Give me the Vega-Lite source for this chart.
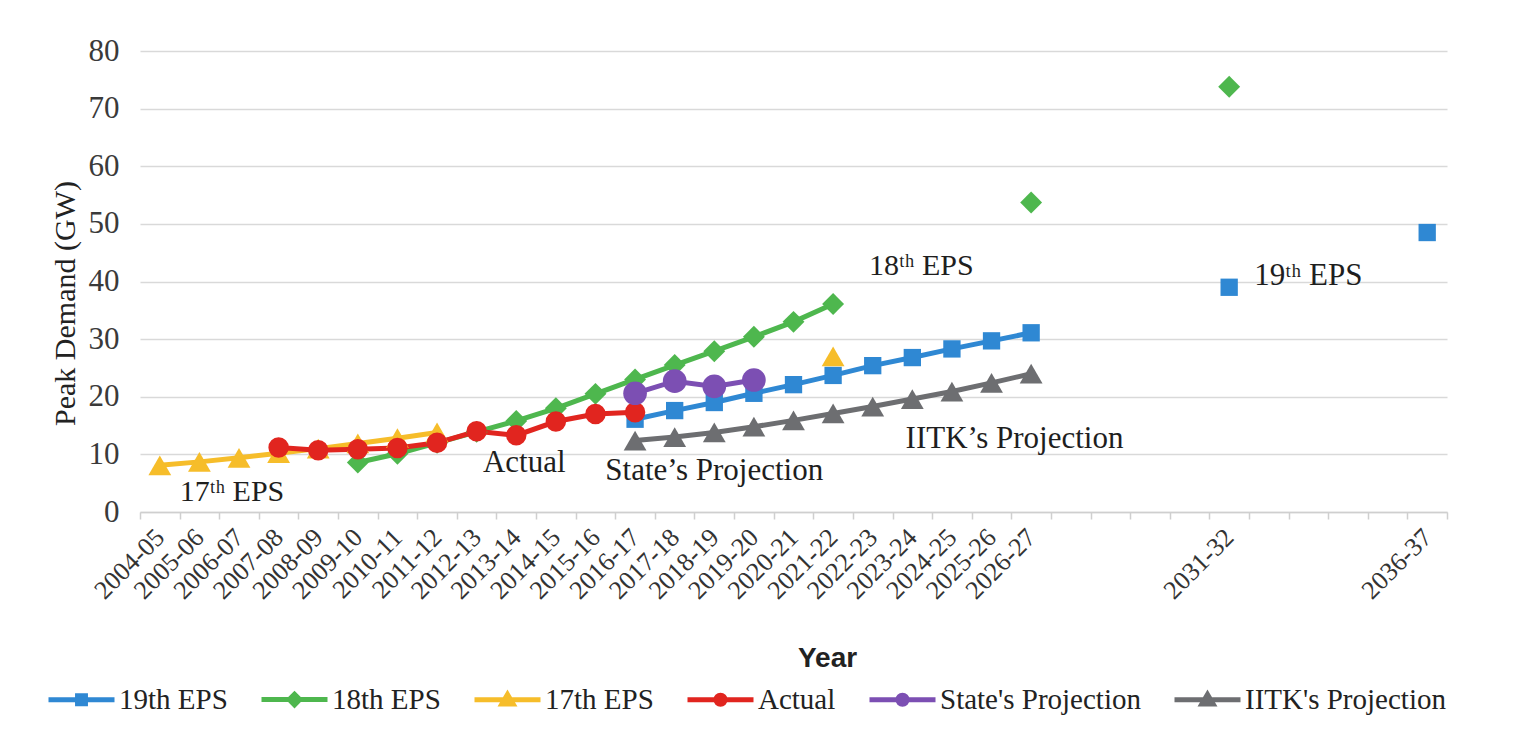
{
  "$schema": "https://vega.github.io/schema/vega-lite/v6.json",
  "width": 1307,
  "height": 461,
  "autosize": {"type": "none"},
  "padding": {"left": 140, "top": 51, "right": 74, "bottom": 239},
  "background": "#ffffff",
  "config": {"view": {"stroke": null}, "text": {"font": "Liberation Serif"}},
  "datasets": {
    "demand": [
      {"series": "19th EPS", "year": "2016-17", "value": 16.1},
      {"series": "19th EPS", "year": "2017-18", "value": 17.6},
      {"series": "19th EPS", "year": "2018-19", "value": 19.0},
      {"series": "19th EPS", "year": "2019-20", "value": 20.6},
      {"series": "19th EPS", "year": "2020-21", "value": 22.1},
      {"series": "19th EPS", "year": "2021-22", "value": 23.7},
      {"series": "19th EPS", "year": "2022-23", "value": 25.4},
      {"series": "19th EPS", "year": "2023-24", "value": 26.8},
      {"series": "19th EPS", "year": "2024-25", "value": 28.3},
      {"series": "19th EPS", "year": "2025-26", "value": 29.7},
      {"series": "19th EPS", "year": "2026-27", "value": 31.1},
      {"series": "19th EPS", "year": "2027-28", "value": null},
      {"series": "19th EPS", "year": "2031-32", "value": 39.0},
      {"series": "19th EPS", "year": "2032-33", "value": null},
      {"series": "19th EPS", "year": "2036-37", "value": 48.5},
      {"series": "18th EPS", "year": "2009-10", "value": 8.6},
      {"series": "18th EPS", "year": "2010-11", "value": 10.1},
      {"series": "18th EPS", "year": "2011-12", "value": 12.0},
      {"series": "18th EPS", "year": "2012-13", "value": 13.9},
      {"series": "18th EPS", "year": "2013-14", "value": 15.8},
      {"series": "18th EPS", "year": "2014-15", "value": 18.0},
      {"series": "18th EPS", "year": "2015-16", "value": 20.5},
      {"series": "18th EPS", "year": "2016-17", "value": 23.0},
      {"series": "18th EPS", "year": "2017-18", "value": 25.5},
      {"series": "18th EPS", "year": "2018-19", "value": 27.9},
      {"series": "18th EPS", "year": "2019-20", "value": 30.4},
      {"series": "18th EPS", "year": "2020-21", "value": 33.0},
      {"series": "18th EPS", "year": "2021-22", "value": 36.1},
      {"series": "18th EPS", "year": "2022-23", "value": null},
      {"series": "18th EPS", "year": "2026-27", "value": 53.7},
      {"series": "18th EPS", "year": "2027-28", "value": null},
      {"series": "18th EPS", "year": "2031-32", "value": 73.8},
      {"series": "17th EPS", "year": "2004-05", "value": 8.1},
      {"series": "17th EPS", "year": "2005-06", "value": 8.7},
      {"series": "17th EPS", "year": "2006-07", "value": 9.4},
      {"series": "17th EPS", "year": "2007-08", "value": 10.2},
      {"series": "17th EPS", "year": "2008-09", "value": 11.0},
      {"series": "17th EPS", "year": "2009-10", "value": 11.9},
      {"series": "17th EPS", "year": "2010-11", "value": 12.8},
      {"series": "17th EPS", "year": "2011-12", "value": 13.8},
      {"series": "17th EPS", "year": "2012-13", "value": null},
      {"series": "17th EPS", "year": "2021-22", "value": 27.0},
      {"series": "Actual", "year": "2007-08", "value": 11.2},
      {"series": "Actual", "year": "2008-09", "value": 10.7},
      {"series": "Actual", "year": "2009-10", "value": 10.9},
      {"series": "Actual", "year": "2010-11", "value": 11.1},
      {"series": "Actual", "year": "2011-12", "value": 12.0},
      {"series": "Actual", "year": "2012-13", "value": 14.0},
      {"series": "Actual", "year": "2013-14", "value": 13.3},
      {"series": "Actual", "year": "2014-15", "value": 15.7},
      {"series": "Actual", "year": "2015-16", "value": 17.0},
      {"series": "Actual", "year": "2016-17", "value": 17.3},
      {"series": "State's Projection", "year": "2016-17", "value": 20.6},
      {"series": "State's Projection", "year": "2017-18", "value": 22.7},
      {"series": "State's Projection", "year": "2018-19", "value": 21.8},
      {"series": "State's Projection", "year": "2019-20", "value": 22.9},
      {"series": "IITK's Projection", "year": "2016-17", "value": 12.4},
      {"series": "IITK's Projection", "year": "2017-18", "value": 13.0},
      {"series": "IITK's Projection", "year": "2018-19", "value": 13.8},
      {"series": "IITK's Projection", "year": "2019-20", "value": 14.8},
      {"series": "IITK's Projection", "year": "2020-21", "value": 15.9},
      {"series": "IITK's Projection", "year": "2021-22", "value": 17.1},
      {"series": "IITK's Projection", "year": "2022-23", "value": 18.3},
      {"series": "IITK's Projection", "year": "2023-24", "value": 19.6},
      {"series": "IITK's Projection", "year": "2024-25", "value": 20.9},
      {"series": "IITK's Projection", "year": "2025-26", "value": 22.4},
      {"series": "IITK's Projection", "year": "2026-27", "value": 24.0}
    ],
    "notes": [
      {"label": "17ᵗʰ EPS", "year": "2006-07", "value": 3.5},
      {"label": "Actual", "year": "2013-14", "value": 8.5},
      {"label": "State’s Projection", "year": "2018-19", "value": 7.1},
      {"label": "IITK’s Projection", "year": "2025-26", "value": 12.7},
      {"label": "18ᵗʰ EPS", "year": "2023-24", "value": 42.7},
      {"label": "19ᵗʰ EPS", "year": "2033-34", "value": 41.0}
    ]
  },
  "encoding": {
    "x": {
      "field": "year",
      "type": "ordinal",
      "scale": {
        "type": "band",
        "paddingInner": 0,
        "paddingOuter": 0,
        "domain": ["2004-05","2005-06","2006-07","2007-08","2008-09","2009-10","2010-11","2011-12","2012-13","2013-14","2014-15","2015-16","2016-17","2017-18","2018-19","2019-20","2020-21","2021-22","2022-23","2023-24","2024-25","2025-26","2026-27","2027-28","2028-29","2029-30","2030-31","2031-32","2032-33","2033-34","2034-35","2035-36","2036-37"]
      },
      "axis": {
        "title": "Year",
        "titleFont": "Liberation Sans",
        "titleFontSize": 28,
        "titleFontWeight": "bold",
        "titleColor": "#222222",
        "titleX": 687,
        "titleY": 132,
        "titleBaseline": "top",
        "labelAngle": -45,
        "labelAlign": "right",
        "labelBaseline": "middle",
        "labelFont": "Liberation Serif",
        "labelFontSize": 26,
        "labelColor": "#333333",
        "labelPadding": 14,
        "labelOverlap": false,
        "labelBound": false,
        "labelExpr": "test(regexp('^20(2[7-9]|30|3[2-5])-'), datum.value) ? '' : datum.value",
        "tickBand": "extent",
        "tickSize": 7,
        "tickColor": "#cfcfcf",
        "tickWidth": 1.5,
        "domainColor": "#cfcfcf",
        "domainWidth": 1.5,
        "grid": false
      }
    },
    "y": {
      "field": "value",
      "type": "quantitative",
      "scale": {"domain": [0, 80], "nice": false},
      "axis": {
        "title": "Peak Demand (GW)",
        "titleFont": "Liberation Serif",
        "titleFontSize": 30,
        "titleFontWeight": "normal",
        "titleColor": "#222222",
        "titlePadding": 8,
        "titleY": 252,
        "values": [0, 10, 20, 30, 40, 50, 60, 70, 80],
        "labelFont": "Liberation Serif",
        "labelFontSize": 31,
        "labelColor": "#3a3a3a",
        "labelPadding": 21,
        "ticks": false,
        "tickSize": 0,
        "domain": false,
        "grid": true,
        "gridColor": "#d9d9d9",
        "gridWidth": 1.5
      }
    }
  },
  "layer": [
    {
      "data": {"name": "demand"},
      "mark": {"type": "line", "strokeWidth": 5, "invalid": "break-paths-filter-domains"},
      "encoding": {
        "color": {
          "field": "series", "type": "nominal",
          "scale": {"domain": ["19th EPS","18th EPS","17th EPS","Actual","State's Projection","IITK's Projection"], "range": ["#2F88D3","#4EB74E","#F6BD2A","#E1251F","#7C4FB3","#6D6E71"]},
          "legend": null
        }
      }
    },
    {
      "data": {"name": "demand"},
      "mark": {"type": "point", "filled": true, "opacity": 1},
      "encoding": {
        "color": {
          "field": "series", "type": "nominal",
          "scale": {"domain": ["19th EPS","18th EPS","17th EPS","Actual","State's Projection","IITK's Projection"], "range": ["#2F88D3","#4EB74E","#F6BD2A","#E1251F","#7C4FB3","#6D6E71"]},
          "legend": null
        },
        "shape": {
          "field": "series", "type": "nominal",
          "scale": {"domain": ["19th EPS","18th EPS","17th EPS","Actual","State's Projection","IITK's Projection"], "range": ["square","diamond","triangle-up","circle","circle","triangle-up"]},
          "legend": null
        },
        "size": {
          "field": "series", "type": "ordinal",
          "scale": {"type": "ordinal", "domain": ["19th EPS","18th EPS","17th EPS","Actual","State's Projection","IITK's Projection"], "range": [300, 480, 520, 420, 560, 520]},
          "legend": null
        }
      }
    },
    {
      "data": {"name": "demand"},
      "mark": {"type": "point", "filled": true, "opacity": 0},
      "encoding": {
        "color": {
          "field": "series", "type": "nominal",
          "scale": {"domain": ["19th EPS","18th EPS","17th EPS","Actual","State's Projection","IITK's Projection"], "range": ["#2F88D3","#4EB74E","#F6BD2A","#E1251F","#7C4FB3","#6D6E71"]},
          "legend": {"title": null, "orient": "none", "legendX": -94, "legendY": 613, "direction": "horizontal", "columns": 6, "symbolSize": 4356, "symbolStrokeWidth": 5, "symbolOpacity": 1, "labelFont": "Liberation Serif", "labelFontSize": 29, "labelColor": "#222222", "labelLimit": 400, "columnPadding": 23, "labelOffset": 2}
        },
        "stroke": {
          "field": "series", "type": "nominal",
          "scale": {"domain": ["19th EPS","18th EPS","17th EPS","Actual","State's Projection","IITK's Projection"], "range": ["#2F88D3","#4EB74E","#F6BD2A","#E1251F","#7C4FB3","#6D6E71"]},
          "legend": {"title": null, "orient": "none", "legendX": -94, "legendY": 613, "direction": "horizontal", "columns": 6, "symbolSize": 4356, "symbolStrokeWidth": 5, "symbolOpacity": 1, "labelFont": "Liberation Serif", "labelFontSize": 29, "labelColor": "#222222", "labelLimit": 400, "columnPadding": 23, "labelOffset": 2}
        },
        "shape": {
          "field": "series", "type": "nominal",
          "scale": {"domain": ["19th EPS","18th EPS","17th EPS","Actual","State's Projection","IITK's Projection"], "range": ["M-1,0H1M-0.12,-0.12H0.12V0.12H-0.12Z","M-1,0H1M0,-0.16L0.16,0L0,0.16L-0.16,0Z","M-1,0H1M0,-0.16L0.17,0.13L-0.17,0.13Z","M-1,0H1M-0.14,0A0.14,0.14,0,1,0,0.14,0A0.14,0.14,0,1,0,-0.14,0Z","M-1,0H1M-0.14,0A0.14,0.14,0,1,0,0.14,0A0.14,0.14,0,1,0,-0.14,0Z","M-1,0H1M0,-0.16L0.17,0.13L-0.17,0.13Z"]},
          "legend": {"title": null, "orient": "none", "legendX": -94, "legendY": 613, "direction": "horizontal", "columns": 6, "symbolSize": 4356, "symbolStrokeWidth": 5, "symbolOpacity": 1, "labelFont": "Liberation Serif", "labelFontSize": 29, "labelColor": "#222222", "labelLimit": 400, "columnPadding": 23, "labelOffset": 2}
        }
      }
    },
    {
      "data": {"name": "notes"},
      "transform": [{"filter": "datum.year === '2006-07'"}],
      "mark": {"type": "text", "fontSize": 30, "color": "#1e1e1e", "dx": -7},
      "encoding": {"text": {"field": "label"}}
    },
    {
      "data": {"name": "notes"},
      "transform": [{"filter": "datum.year === '2013-14'"}],
      "mark": {"type": "text", "fontSize": 31, "color": "#1e1e1e", "dx": 8},
      "encoding": {"text": {"field": "label"}}
    },
    {
      "data": {"name": "notes"},
      "transform": [{"filter": "datum.year === '2018-19' || datum.year === '2033-34'"}],
      "mark": {"type": "text", "fontSize": 31, "color": "#1e1e1e", "dx": 0},
      "encoding": {"text": {"field": "label"}}
    },
    {
      "data": {"name": "notes"},
      "transform": [{"filter": "datum.year === '2025-26'"}],
      "mark": {"type": "text", "fontSize": 31, "color": "#1e1e1e", "dx": 23},
      "encoding": {"text": {"field": "label"}}
    },
    {
      "data": {"name": "notes"},
      "transform": [{"filter": "datum.year === '2023-24'"}],
      "mark": {"type": "text", "fontSize": 30, "color": "#1e1e1e", "dx": 9},
      "encoding": {"text": {"field": "label"}}
    }
  ],
  "resolve": {
    "scale": {"shape": "independent"},
    "legend": {"color": "independent", "shape": "independent", "stroke": "independent"}
  }
}
